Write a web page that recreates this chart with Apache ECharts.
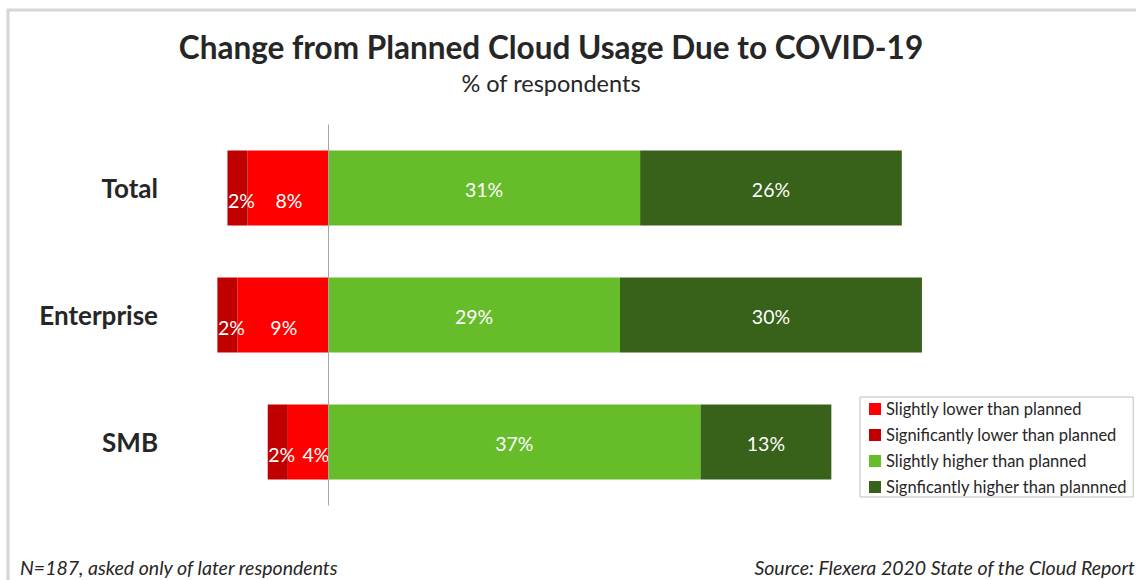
<!DOCTYPE html>
<html>
<head>
<meta charset="utf-8">
<script src="https://cdn.jsdelivr.net/npm/echarts@6/dist/echarts.min.js"></script>
<style>
html,body{margin:0;padding:0;background:#fff;}
#chart{width:1136px;height:580px;}
</style>
</head>
<body>
<div id="chart"></div>
<script>
const categories = ['Total', 'Enterprise', 'SMB'];
const seriesNames = ['Slightly lower than planned', 'Significantly lower than planned', 'Slightly higher than planned', 'Signficantly higher than plannned'];
const slightlyLower = [-8, -9, -4];
const significantlyLower = [-2, -2, -2];
const slightlyHigher = [31, 29, 37];
const significantlyHigher = [26, 30, 13];

const colors = ['#FF0000', '#C00000', '#67BC2A', '#38611A'];
const FONT = 'Lato';

const chart = echarts.init(document.getElementById('chart'), null, {renderer: 'svg'});

function mkSeries(name, data, color, offX, offY) {
  return {
    name: name,
    type: 'bar',
    stack: 'all',
    data: data,
    barWidth: 75,
    itemStyle: {color: color},
    label: {
      show: true,
      position: 'inside',
      offset: [offX, offY],
      color: '#fff',
      fontFamily: FONT,
      fontSize: 19.5,
      formatter: p => Math.abs(p.value) + '%'
    },
    emphasis: {disabled: true}
  };
}

const series = [
  mkSeries(seriesNames[0], slightlyLower, colors[0], 1, 12),
  mkSeries(seriesNames[1], significantlyLower, colors[1], 4, 12),
  mkSeries(seriesNames[2], slightlyHigher, colors[2], 0, 1),
  mkSeries(seriesNames[3], significantlyHigher, colors[3], 0, 1)
];
// narrow SMB red segment: label pushed right as in the original
series[0].labelLayout = p => ({dx: p.dataIndex === 2 ? 8 : 1, dy: 12});
series[2].markLine = {
  silent: true,
  symbol: 'none',
  label: {show: false},
  lineStyle: {color: '#a6a6a6', width: 1, type: 'solid'},
  data: [{xAxis: 0}]
};

chart.setOption({
  animation: false,
  color: colors,
  grid: {left: 157, right: 204, top: 124.5, bottom: 74.5, containLabel: false},
  xAxis: {
    type: 'value', min: -17, max: 60, show: false,
    splitLine: {show: false}
  },
  yAxis: {
    type: 'category',
    data: categories,
    inverse: true,
    axisLine: {show: false},
    axisTick: {show: false},
    axisLabel: {
      margin: -1,
      color: '#262626',
      fontFamily: FONT,
      fontWeight: 'bold',
      fontSize: 26
    }
  },
  legend: {
    orient: 'vertical',
    left: 860,
    top: 397,
    padding: [3, 6, 1, 9],
    itemGap: 8,
    itemWidth: 12,
    itemHeight: 12,
    icon: 'rect',
    borderColor: '#bfbfbf',
    borderWidth: 1,
    selectedMode: false,
    textStyle: {fontFamily: FONT, fontSize: 16.5, color: '#262626', lineHeight: 18, padding: [0, 0, 0, 0]},
    data: seriesNames
  },
  graphic: [
    {type: 'rect', shape: {x: 8, y: 10, width: 1300, height: 800}, style: {fill: 'none', stroke: '#d6d6d6', lineWidth: 3}, silent: true},
    {type: 'text', x: 551, y: 47, style: {text: 'Change from Planned Cloud Usage Due to COVID-19', font: 'bold 31.5px ' + FONT, fill: '#262626', textAlign: 'center', textVerticalAlign: 'middle'}},
    {type: 'text', x: 551, y: 83, style: {text: '% of respondents', font: '23.5px ' + FONT, fill: '#262626', textAlign: 'center', textVerticalAlign: 'middle'}},
    {type: 'text', x: 20, y: 567, style: {text: 'N=187, asked only of later respondents', font: 'italic 19.5px ' + FONT, fill: '#262626', textAlign: 'left', textVerticalAlign: 'middle'}},
    {type: 'text', x: 1135, y: 567, style: {text: 'Source: Flexera 2020 State of the Cloud Report', font: 'italic 19.5px ' + FONT, fill: '#262626', textAlign: 'right', textVerticalAlign: 'middle'}}
  ],
  series: series
});
</script>
</body>
</html>
